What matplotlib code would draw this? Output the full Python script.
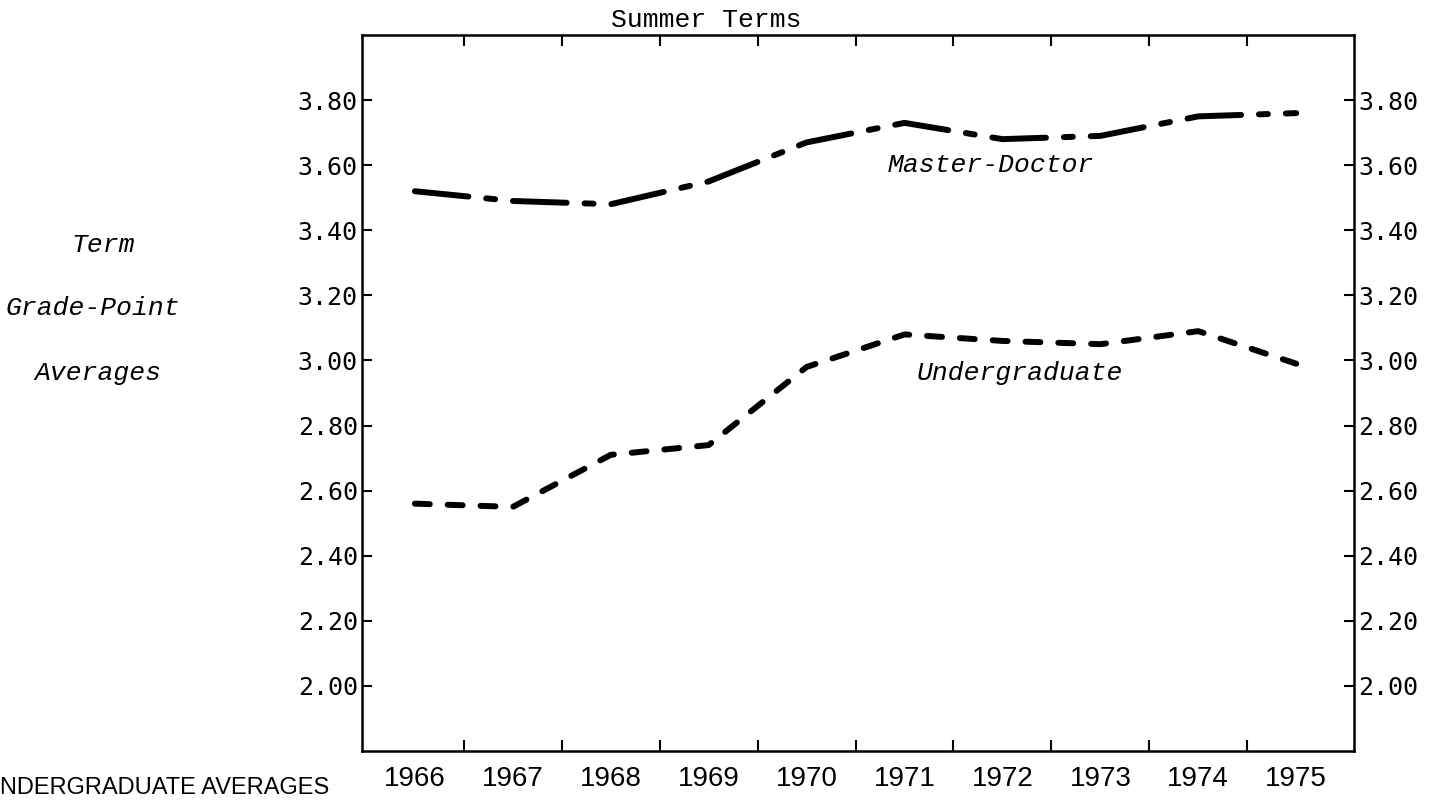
import matplotlib.pyplot as plt
from matplotlib.ticker import FormatStrFormatter

# summer term grade-point averages
years = [1966, 1967, 1968, 1969, 1970, 1971, 1972, 1973, 1974, 1975]
master_doctor = [3.52, 3.49, 3.48, 3.55, 3.67, 3.73, 3.68, 3.69, 3.75, 3.76]
undergraduate = [2.56, 2.55, 2.71, 2.74, 2.98, 3.08, 3.06, 3.05, 3.09, 2.99]

gpa_ticks = [2.00, 2.20, 2.40, 2.60, 2.80, 3.00, 3.20, 3.40, 3.60, 3.80]
year_dividers = [1966.5, 1967.5, 1968.5, 1969.5, 1970.5, 1971.5, 1972.5, 1973.5, 1974.5]

W, H = 1448, 800
fig = plt.figure(figsize=(W / 100, H / 100), dpi=100)
ax = fig.add_axes([362 / W, 1 - 751 / H, (1354 - 362) / W, (751 - 35) / H])

# thick hand-drawn style dashes
ax.plot(years, master_doctor, color='black', lw=4.3,
        dashes=(9, 3, 1.5, 3), dash_capstyle='round')
ax.plot(years, undergraduate, color='black', lw=4.3,
        dashes=(2.5, 3), dash_capstyle='round')

ax.set_xlim(1965.46, 1975.59)
ax.set_ylim(1.80, 4.00)

for s in ax.spines.values():
    s.set_linewidth(1.8)

# y axis: same scale typed on both sides
ax.set_yticks(gpa_ticks)
ax.yaxis.set_major_formatter(FormatStrFormatter('%.2f'))
ax.tick_params(axis='y', direction='in', left=True, right=True,
               labelleft=True, labelright=True, length=7, width=1.5,
               labelsize=18, pad=3)
for t in ax.yaxis.get_major_ticks():
    t.label1.set_family('DejaVu Sans Mono')
    t.label2.set_family('DejaVu Sans Mono')

# x axis: dividers between years, year labels in between
ax.set_xticks(year_dividers)
ax.set_xticks(years, minor=True)
ax.set_xticklabels([str(y) for y in years], minor=True)
ax.tick_params(axis='x', which='major', direction='in', top=True, bottom=True,
               length=8, width=1.5, labelbottom=False)
ax.tick_params(axis='x', which='minor', length=0, labelsize=20, pad=11)
for lbl in ax.get_xticklabels(minor=True):
    lbl.set_family(['Liberation Sans', 'DejaVu Sans'])

# line labels
ax.text(1971.88, 3.60, 'Master-Doctor', family='Liberation Mono',
        style='italic', fontsize=19, ha='center', va='center')
ax.text(1972.18, 2.96, 'Undergraduate', family='Liberation Mono',
        style='italic', fontsize=19, ha='center', va='center')

# title and y axis caption
fig.text(706 / W, 1 - 27 / H, 'Summer Terms', family='Liberation Mono',
         fontsize=19, ha='center', va='baseline')
for txt, x, y in [('Term', 103, 245), ('Grade-Point', 93, 308), ('Averages', 98, 373)]:
    fig.text(x / W, 1 - y / H, txt, family='Liberation Mono', style='italic',
             fontsize=19, ha='center', va='center')

# heading of the next section at the page foot
fig.text(0.0, 1 - 799 / H, 'NDERGRADUATE AVERAGES',
         family=['Liberation Sans', 'DejaVu Sans'], fontsize=17,
         ha='left', va='bottom')

fig.savefig('out.png', dpi=100)
